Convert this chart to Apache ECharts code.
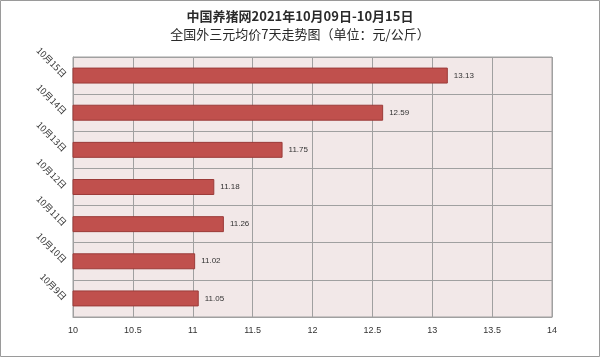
<!DOCTYPE html>
<html><head><meta charset="utf-8">
<script src="https://cdn.jsdelivr.net/npm/echarts@6/dist/echarts.min.js"></script>
<style>html,body{margin:0;padding:0;background:#fff}#c{width:600px;height:357px}</style>
</head><body><div id="c"></div>
<script>
var titleLine1 = '中国养猪网2021年10月09日-10月15日';
var titleLine2 = '全国外三元均价7天走势图（单位：元/公斤）';
var categories = ['10月9日','10月10日','10月11日','10月12日','10月13日','10月14日','10月15日'];
var prices = [11.05, 11.02, 11.26, 11.18, 11.75, 12.59, 13.13];
var xTicks = [10, 10.5, 11, 11.5, 12, 12.5, 13, 13.5, 14];

var chart = echarts.init(document.getElementById('c'), null, {renderer:'canvas'});
chart.setOption({
  animation:false,
  backgroundColor:'#fff',
  graphic:[{type:'rect',shape:{x:0.5,y:0.5,width:599,height:356},style:{fill:'none',stroke:'#9a9a9a',lineWidth:1},silent:true}],
  title:{
    text:'{a|'+titleLine1+'}\n{b|'+titleLine2+'}',
    left:'center', top:2,
    textStyle:{rich:{
      a:{fontFamily:'Noto Sans CJK SC',fontSize:13,fontWeight:'bold',color:'#2a2a2a',lineHeight:18},
      b:{fontFamily:'Noto Sans CJK SC',fontSize:13,fontWeight:'normal',color:'#2a2a2a',lineHeight:18}
    }}
  },
  grid:{left:73,right:48,top:57,bottom:40,show:true,backgroundColor:'#f2e8e8',borderColor:'#a0a0a0',borderWidth:1},
  xAxis:{
    type:'value',min:xTicks[0],max:xTicks[xTicks.length-1],interval:0.5,
    axisLine:{show:true,lineStyle:{color:'#a0a0a0'}},
    axisTick:{show:false},
    axisLabel:{fontSize:9,color:'#333',margin:9,fontFamily:'Liberation Sans'},
    splitLine:{show:true,lineStyle:{color:'#a0a0a0',width:1}}
  },
  yAxis:{
    type:'category',data:categories,
    axisLine:{show:true,lineStyle:{color:'#a0a0a0'}},
    axisTick:{show:false},
    axisLabel:{fontSize:9,color:'#333',rotate:-45,margin:8,fontFamily:'Noto Sans CJK SC'},
    splitLine:{show:true,lineStyle:{color:'#a0a0a0',width:1}}
  },
  series:[{
    type:'bar',data:prices,barWidth:'43%',
    itemStyle:{color:'#c0504d',borderColor:'#9b3b39',borderWidth:1},
    label:{show:true,position:'right',distance:6,fontSize:8,color:'#333',fontFamily:'Liberation Sans'}
  }]
});
</script></body></html>
